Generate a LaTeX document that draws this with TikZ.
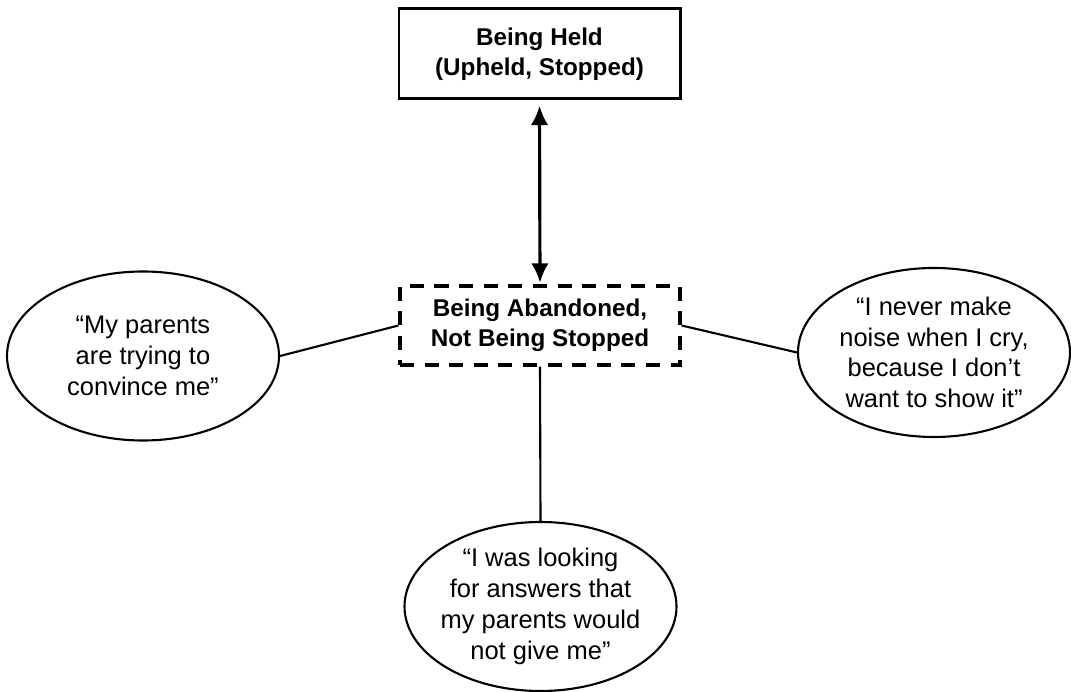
\documentclass[tikz,border=0pt]{standalone}
\usepackage{fontspec}
\setmainfont{Liberation Sans}
\usepackage{tikz}
\usetikzlibrary{arrows.meta,shapes.geometric}

\begin{document}
\begin{tikzpicture}[
    heldbox/.style={draw, line width=1.7pt, minimum width=5.62cm, minimum height=1.8cm,
        align=center, font=\fontsize{13.8}{17}\selectfont\bfseries},
    dashbox/.style={draw, line width=1.8pt, dash pattern=on 8pt off 6pt,
        minimum width=5.6cm, minimum height=1.58cm,
        align=center, font=\fontsize{13.8}{17}\selectfont\bfseries},
    quote/.style={draw, ellipse, line width=1.2pt, inner sep=-12pt,
        minimum width=5.44cm, minimum height=3.38cm,
        align=center, font=\fontsize{14.5}{17.5}\selectfont},
    link/.style={line width=1.2pt}
]
    \useasboundingbox (0,0) rectangle (21.42,-13.84);
    % boxes
    \node[heldbox] (held) at (10.79,-1.08) {Being Held\\(Upheld, Stopped)};
    \node[dashbox] (aband) at (10.8,-6.51) {Being Abandoned,\\Not Being Stopped};
    % quotes
    \node[quote] (parents) at (2.86,-7.12) {“My parents\\are trying to\\convince me”};
    \node[quote] (noise) at (18.68,-7.05) {“I never make\\noise when I cry,\\because I don’t\\want to show it”};
    \node[quote] (answers) at (10.81,-12.13) {“I was looking\\for answers that\\my parents would\\not give me”};
    % connectors
    \draw[line width=1.8pt, {Latex[length=11pt,width=10pt]}-{Latex[length=11pt,width=10pt]},
        shorten <=3pt, shorten >=1pt] (held.south) -- (aband.north);
    \draw[link] (parents.east) -- (aband.west);
    \draw[link] (aband.east) -- (noise.west);
    \draw[link] (aband.south) -- (answers.north);
\end{tikzpicture}
\end{document}
